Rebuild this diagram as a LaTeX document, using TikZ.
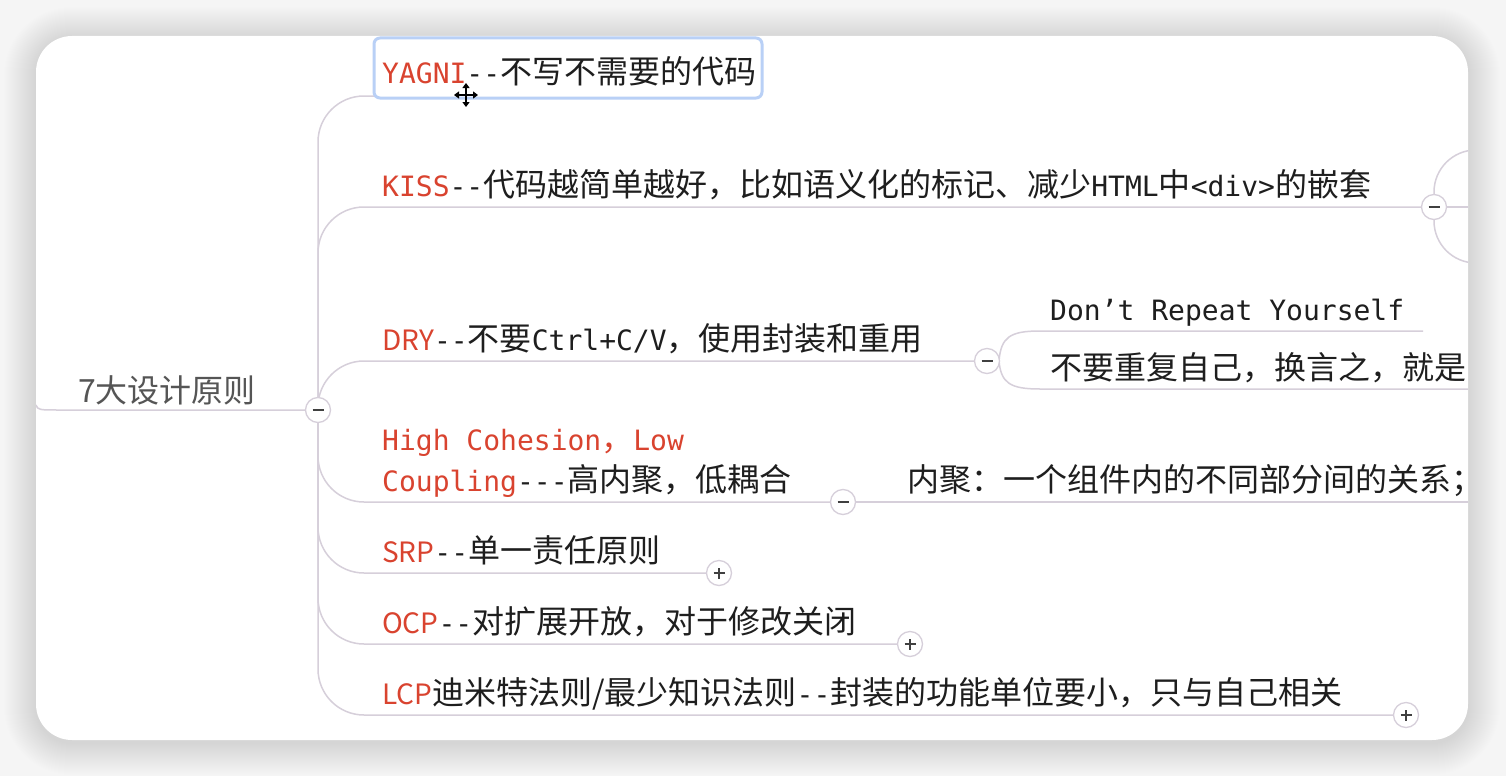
\documentclass[tikz,border=0pt]{standalone}
\usepackage{fontspec}
\setmainfont{Noto Sans CJK SC}
\newfontfamily\monof{DejaVu Sans Mono}[Scale=0.875]
\usetikzlibrary{arrows.meta}
\definecolor{redc}{HTML}{D9432F}
\definecolor{ink}{HTML}{1E1E1E}
\definecolor{rootink}{HTML}{555555}
\definecolor{linec}{HTML}{D6CFDA}
\definecolor{bgc}{HTML}{F5F5F5}
\definecolor{selc}{HTML}{B9D0F6}
\definecolor{symc}{HTML}{404040}
\newcommand{\rdm}[1]{\textcolor{redc}{\monof #1}}
\newcommand{\rdp}[1]{\textcolor{redc}{\fontsize{28}{38}\selectfont #1}}
\newcommand{\mn}[1]{{\monof #1}}
\newcommand{\mysymminus}[1]{\draw[sym] ([xshift=-5.5pt]#1.center) -- ([xshift=5.5pt]#1.center);}
\newcommand{\mysymplus}[1]{\mysymminus{#1}\draw[sym] ([yshift=-5.5pt]#1.center) -- ([yshift=5.5pt]#1.center);}
\pgfdeclarelayer{bg}
\pgfsetlayers{bg,main}
\tikzset{
  txt/.style={anchor=base west, inner sep=0pt, text=ink, font=\fontsize{32}{38}\selectfont},
  conn/.style={draw=linec, line width=1.5pt},
  toggle/.style={circle, draw=linec, line width=1.3pt, fill=white, minimum size=25pt, inner sep=0pt},
  sym/.style={draw=symc, line width=1.6pt},
  cardpath/.style={rounded corners=36pt}
}
\begin{document}
\begin{tikzpicture}[x=1pt,y=-1pt]
\useasboundingbox (0,0) rectangle (1506,776);
\begin{pgfonlayer}{bg}
  \fill[bgc] (0,0) rectangle (1506,776);
  \foreach \i in {1,...,32}{
    \fill[black, opacity=0.0045, rounded corners=36pt+\i pt] (36-\i,36-\i+3) rectangle (1468+\i,740+\i+3);
  }
  \fill[white, cardpath] (36,36) rectangle (1468,740);
\end{pgfonlayer}

\begin{scope}
\clip[cardpath] (36,36) rectangle (1468,740);
% selection box of YAGNI
\draw[selc, line width=3pt, rounded corners=6pt, fill=white] (374,38) rectangle (762,98);
% root
\node[txt, text=rootink] (root) at (78,402) {7大设计原则};
\node[toggle] (rc) at (318,410) {};
% children
\node[txt] (yagni) at (382,83) {\rdm{YAGNI}\mn{--}不写不需要的代码};
\node[txt] (kiss) at (382,196) {\rdm{KISS}\mn{--}代码越简单越好，比如语义化的标记、减少\mn{HTML}中\mn{<div>}的嵌套};
\node[txt] (dry) at (382,350) {\rdp{DRY}\mn{--}不要\mn{Ctrl+C/V}，使用封装和重用};
\node[txt] (hca) at (382,450) {\rdm{High Cohesion}\textcolor{redc}{，}\rdm{Low}};
\node[txt] (hcb) at (382,491) {\rdm{Coupling}\mn{---}高内聚，低耦合};
\node[txt] (srp) at (382,562) {\rdp{SRP}\mn{--}单一责任原则};
\node[txt] (ocp) at (382,633) {\rdp{OCP}\mn{--}对扩展开放，对于修改关闭};
\node[txt] (lcp) at (382,704) {\rdp{LCP}迪米特法则/最少知识法则\mn{--}封装的功能单位要小，只与自己相关};
% grandchildren
\node[txt] (dont) at (1050,320) {\mn{Don’t Repeat Yourself}};
\node[txt] (norep) at (1050,379) {不要重复自己，换言之，就是};
\node[txt] (neiju) at (907,491) {内聚：一个组件内的不同部分间的关系；};
% toggles
\node[toggle] (kissc) at (1434,207) {};
\node[toggle] (dryc) at (987,361) {};
\node[toggle] (hcc) at (843,502) {};
\node[toggle] (srpc) at (719,573) {};
\node[toggle] (ocpc) at (910,644) {};
\node[toggle] (lcpc) at (1406,715) {};
\mysymminus{rc}
\mysymminus{kissc}
\mysymminus{dryc}
\mysymminus{hcc}
\mysymplus{srpc}
\mysymplus{ocpc}
\mysymplus{lcpc}
% move cursor
\draw[black, line width=2pt, {Triangle[length=5pt,width=7pt]}-{Triangle[length=5pt,width=7pt]}] (454,95) -- (478,95);
\draw[black, line width=2pt, {Triangle[length=5pt,width=7pt]}-{Triangle[length=5pt,width=7pt]}] (466,83) -- (466,107);
\end{scope}

% free ends of connectors
\coordinate (rootS) at (36,405);
\coordinate (yagniE) at (378,96);
\coordinate (kissA) at (1490,150);
\coordinate (kissB) at (1490,207);
\coordinate (kissC) at (1490,263);
\coordinate (dontE) at (1423,331);
\coordinate (norepE) at (1490,389);
\coordinate (neijuE) at (1490,502);

\begin{pgfonlayer}{bg}
\begin{scope}
\clip[cardpath] (36,36) rectangle (1468,740);
\draw[conn] (rootS) .. controls (38,410) .. (62,410) -- (rc.center);
\draw[conn, rounded corners=46pt] (rc.center) |- (yagniE);
\draw[conn, rounded corners=46pt] (rc.center) |- (kissc.center);
\draw[conn, rounded corners=46pt] (rc.center) |- (dryc.center);
\draw[conn, rounded corners=46pt] (rc.center) |- (hcc.center);
\draw[conn, rounded corners=46pt] (rc.center) |- (srpc.center);
\draw[conn, rounded corners=46pt] (rc.center) |- (ocpc.center);
\draw[conn, rounded corners=46pt] (rc.center) |- (lcpc.center);
\draw[conn, rounded corners=42pt] (kissc.center) |- (kissA);
\draw[conn] (kissc.center) -- (kissB);
\draw[conn, rounded corners=42pt] (kissc.center) |- (kissC);
\draw[conn] (dryc.center) -- (999,361) .. controls (1001,337) and (1010,331) .. (1040,331) -- (dontE);
\draw[conn] (dryc.center) -- (999,361) .. controls (1001,383) and (1010,389) .. (1040,389) -- (norepE);
\draw[conn] (hcc.center) -- (neijuE);
\end{scope}
\end{pgfonlayer}
\end{tikzpicture}
\end{document}
